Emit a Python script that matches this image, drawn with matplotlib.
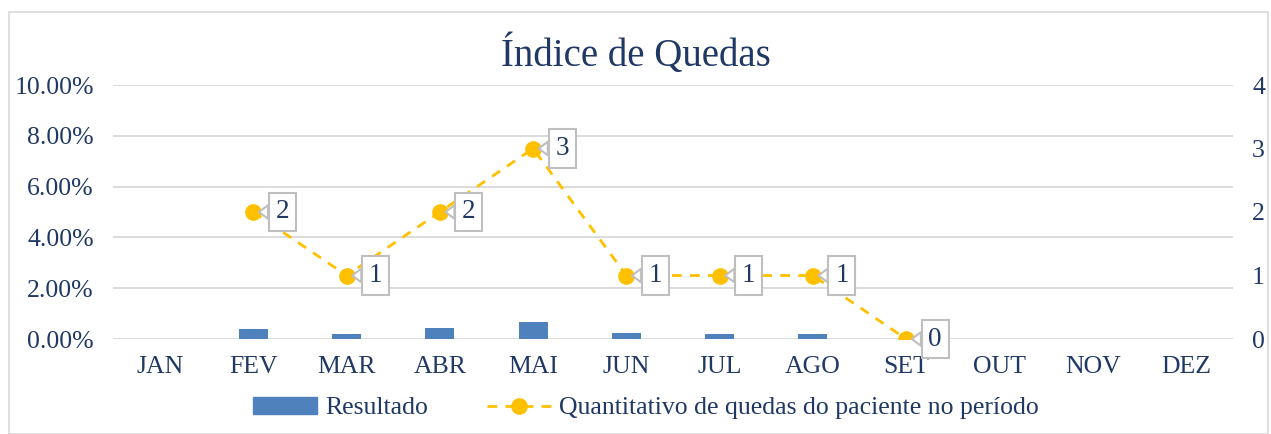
import matplotlib
matplotlib.use("Agg")
import matplotlib.pyplot as plt
from matplotlib.patches import Rectangle
from matplotlib.lines import Line2D
from matplotlib.patches import Patch

months = ["JAN", "FEV", "MAR", "ABR", "MAI", "JUN", "JUL", "AGO", "SET", "OUT", "NOV", "DEZ"]
resultado = [None, 0.38, 0.18, 0.42, 0.66, 0.25, 0.18, 0.18, None, None, None, None]  # percent
quedas = [None, 2, 1, 2, 3, 1, 1, 1, 0, None, None, None]

TXT = "#1F3864"
FONT = "Liberation Serif"
plt.rcParams['font.family'] = [FONT, 'DejaVu Serif']
FS = 18.5

fig = plt.figure(figsize=(12.71, 4.34), dpi=100)
fig.patches.append(Rectangle((9/1271, 0), (1268-9)/1271, 1-12/434, transform=fig.transFigure,
                             fill=False, ec="#D9D9D9", lw=1.2))

ax = fig.add_axes([113.4/1271, 1-339/434, (1232.6-113.4)/1271, (339-85)/434])
ax2 = ax.twinx()

x = list(range(len(months)))
bx = [i for i, v in enumerate(resultado) if v is not None]
bv = [v for v in resultado if v is not None]
ax.bar(bx, bv, width=0.31, color="#4F81BD", zorder=2)
ax.set_ylim(0, 10)
ax.set_yticks([0, 2, 4, 6, 8, 10])
ax.set_yticklabels([f"{v:.2f}%" for v in [0, 2, 4, 6, 8, 10]])
ax.set_xlim(-0.5, 11.5)
ax.set_xticks(x)
ax.set_xticklabels(months)
ax.grid(axis="y", color="#D9D9D9", lw=1.3, zorder=0)
ax.set_axisbelow(True)
for s in ax.spines.values():
    s.set_visible(False)
for s in ax2.spines.values():
    s.set_visible(False)
ax.tick_params(axis="both", length=0, colors=TXT, labelsize=FS)
ax.tick_params(axis="y", pad=14)
ax.tick_params(axis="x", pad=12)

lx = [i for i, v in enumerate(quedas) if v is not None]
lv = [v for v in quedas if v is not None]
ax2.plot(lx, lv, color="#FFC000", lw=2, ls=(0, (3.5, 3)), marker="o", ms=11, zorder=3)
ax2.set_ylim(0, 4)
ax2.set_yticks([0, 1, 2, 3, 4])
ax2.tick_params(axis="y", length=0, colors=TXT, labelsize=FS, pad=14)

for xi, yi in zip(lx, lv):
    ax2.annotate(str(yi), xy=(xi, yi), xytext=(29, 0), textcoords="offset pixels",
                 ha="center", va="center", fontsize=FS + 1, color=TXT, zorder=5,
                 bbox=dict(boxstyle="square,pad=0.25", fc="white", ec="#BFBFBF", lw=1.5),
                 arrowprops=dict(arrowstyle="wedge,tail_width=0.5", fc="white", ec="#BFBFBF",
                                 lw=1.5, shrinkA=0, shrinkB=4))

fig.text(0.5, 1-55/434, "Índice de Quedas", ha="center", va="center", fontsize=28, color=TXT)

handles = [Patch(color="#4F81BD"),
           Line2D([0], [0], color="#FFC000", lw=2, ls=(0, (3.5, 3)), marker="o", ms=11)]
fig.legend(handles, ["Resultado", "Quantitativo de quedas do paciente no período"],
           loc="center", bbox_to_anchor=(0.508, 1-408/434), ncol=2, frameon=False,
           fontsize=FS, labelcolor=TXT, handlelength=2.5, handletextpad=0.3, columnspacing=2.3)

fig.savefig("out.png", dpi=100)
